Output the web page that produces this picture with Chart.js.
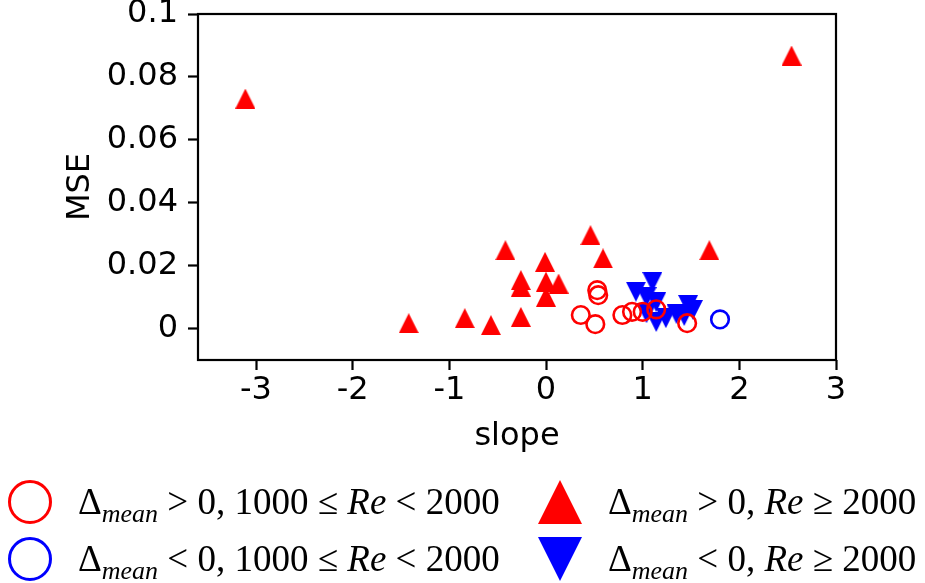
<!DOCTYPE html>
<html>
<head>
<meta charset="utf-8">
<script src="https://cdn.jsdelivr.net/npm/chart.js@4.4.0/dist/chart.umd.min.js"></script>
<style>
  html, body { margin: 0; padding: 0; background: #fff; }
  #wrap { width: 925px; height: 583px; }
</style>
</head>
<body>
<div id="wrap"><canvas id="mseChart" width="925" height="583"></canvas></div>
<script>
// slope vs. MSE, split by sign of the mean shift and Reynolds-number range
const posLowReSlope = [0.53, 0.54, 0.36, 0.51, 0.79, 0.89, 1.00, 1.14, 1.46];
const posLowReMse   = [0.0122, 0.0106, 0.0043, 0.0014, 0.0043, 0.0053, 0.0053, 0.0061, 0.0017];

const negLowReSlope = [1.80];
const negLowReMse   = [0.0029];

const posHighReSlope = [-3.11, 2.54, -1.42, -0.84, -0.57, -0.42, -0.01, -0.26, -0.26, 0.00, 0.13, 0.00, -0.26, 0.46, 0.59, 1.69];
const posHighReMse   = [0.0731, 0.0868, 0.0017, 0.0033, 0.0011, 0.0249, 0.0212, 0.0154, 0.0133, 0.0149, 0.0143, 0.0101, 0.0037, 0.0297, 0.0223, 0.0249];

const negHighReSlope = [1.10, 0.93, 1.04, 1.14, 1.04, 1.14, 1.24, 1.35, 1.47, 1.52, 1.43];
const negHighReMse   = [0.0148, 0.0117, 0.0100, 0.0084, 0.0049, 0.0021, 0.0033, 0.0046, 0.0075, 0.0059, 0.0040];

const xTicks = [-3, -2, -1, 0, 1, 2, 3];
const xTickLabels = ['-3', '-2', '-1', '0', '1', '2', '3'];
const yTicks = [0, 0.02, 0.04, 0.06, 0.08, 0.1];
const yTickLabels = ['0', '0.02', '0.04', '0.06', '0.08', '0.1'];

const RED = '#ff0000';
const BLUE = '#0000ff';

function toPoints(xs, ys) {
  return xs.map((x, i) => ({ x: x, y: ys[i] }));
}

// filled triangle marker (square bounding box, like matplotlib's ^ and v)
function triangleMarker(color, size, down) {
  const c = document.createElement('canvas');
  c.width = size;
  c.height = size;
  const g = c.getContext('2d');
  g.fillStyle = color;
  g.beginPath();
  if (down) {
    g.moveTo(0, 0); g.lineTo(size, 0); g.lineTo(size / 2, size);
  } else {
    g.moveTo(size / 2, 0); g.lineTo(size, size); g.lineTo(0, size);
  }
  g.closePath();
  g.fill();
  return c;
}

const upRed = triangleMarker(RED, 20, false);
const downBlue = triangleMarker(BLUE, 20, true);

// legend: label pieces (plain, italic subscript, italic)
const legendItems = [
  { ds: 0, col: 0, row: 0, parts: [['Δ'], ['mean', 'sub'], [' > 0, 1000 ≤ '], ['Re', 'it'], [' < 2000']] },
  { ds: 1, col: 0, row: 1, parts: [['Δ'], ['mean', 'sub'], [' < 0, 1000 ≤ '], ['Re', 'it'], [' < 2000']] },
  { ds: 2, col: 1, row: 0, parts: [['Δ'], ['mean', 'sub'], [' > 0, '], ['Re', 'it'], [' ≥ 2000']] },
  { ds: 3, col: 1, row: 1, parts: [['Δ'], ['mean', 'sub'], [' < 0, '], ['Re', 'it'], [' ≥ 2000']] }
];
const legendColX = [30, 560];
const legendRowY = [502, 559];

const mathLegend = {
  id: 'mathLegend',
  afterDraw(chart) {
    const ctx = chart.ctx;
    ctx.save();
    legendItems.forEach(item => {
      const ds = chart.data.datasets[item.ds];
      const cx = legendColX[item.col];
      const cy = legendRowY[item.row];
      if (ds.pointStyle === 'circle') {
        ctx.beginPath();
        ctx.arc(cx, cy, 20.5, 0, Math.PI * 2);
        ctx.lineWidth = 3;
        ctx.strokeStyle = ds.pointBorderColor;
        ctx.stroke();
      } else {
        const big = triangleMarker(ds.markerColor, 44, ds.markerDown);
        ctx.drawImage(big, cx - 22, cy - 22);
      }
      let x = cx + 48;
      const base = cy + 12;
      ctx.fillStyle = '#000';
      ctx.textBaseline = 'alphabetic';
      ctx.textAlign = 'left';
      item.parts.forEach(p => {
        let y = base;
        if (p[1] === 'sub') {
          ctx.font = 'italic 26px "Liberation Serif"';
          y = base + 8;
        } else if (p[1] === 'it') {
          ctx.font = 'italic 37px "Liberation Serif"';
        } else {
          ctx.font = '37px "Liberation Serif"';
        }
        ctx.fillText(p[0], x, y);
        x += ctx.measureText(p[0]).width;
      });
    });
    ctx.restore();
  }
};

// closed axes box
const frameBox = {
  id: 'frameBox',
  afterDatasetsDraw(chart) {
    const a = chart.chartArea;
    const ctx = chart.ctx;
    ctx.save();
    ctx.strokeStyle = '#000';
    ctx.lineWidth = 2.2;
    ctx.strokeRect(a.left, a.top, a.right - a.left, a.bottom - a.top);
    ctx.restore();
  }
};

Chart.defaults.font.family = '"DejaVu Sans"';
Chart.defaults.font.size = 32;
Chart.defaults.color = '#000';

const tickGrid = {
  display: true,
  drawOnChartArea: false,
  drawTicks: true,
  tickLength: 10,
  tickWidth: 2.2,
  tickColor: '#000'
};

new Chart(document.getElementById('mseChart'), {
  type: 'scatter',
  data: {
    datasets: [
      {
        label: 'Δmean > 0, 1000 ≤ Re < 2000',
        data: toPoints(posLowReSlope, posLowReMse),
        pointStyle: 'circle',
        pointRadius: 8.8,
        pointBorderWidth: 2.6,
        pointBorderColor: RED,
        pointBackgroundColor: 'rgba(0,0,0,0)'
      },
      {
        label: 'Δmean < 0, 1000 ≤ Re < 2000',
        data: toPoints(negLowReSlope, negLowReMse),
        pointStyle: 'circle',
        pointRadius: 8.8,
        pointBorderWidth: 2.6,
        pointBorderColor: BLUE,
        pointBackgroundColor: 'rgba(0,0,0,0)'
      },
      {
        label: 'Δmean > 0, Re ≥ 2000',
        data: toPoints(posHighReSlope, posHighReMse),
        pointStyle: upRed,
        pointRadius: 10,
        markerColor: RED,
        markerDown: false
      },
      {
        label: 'Δmean < 0, Re ≥ 2000',
        data: toPoints(negHighReSlope, negHighReMse),
        pointStyle: downBlue,
        pointRadius: 10,
        markerColor: BLUE,
        markerDown: true
      }
    ]
  },
  options: {
    responsive: false,
    animation: false,
    events: [],
    layout: { padding: { left: 0, top: 14, right: 89, bottom: 127 } },
    plugins: {
      legend: { display: false },
      tooltip: { enabled: false }
    },
    scales: {
      x: {
        type: 'linear',
        min: -3.6,
        max: 3.0,
        grid: tickGrid,
        border: { display: false },
        afterBuildTicks: s => { s.ticks = xTicks.map(v => ({ value: v })); },
        afterFit: s => { s.height = 96; s.paddingLeft = 0; s.paddingRight = 0; },
        ticks: {
          padding: 1,
          maxRotation: 0,
          font: { size: 32 },
          callback: v => xTickLabels[xTicks.indexOf(v)]
        },
        title: { display: true, text: 'slope', font: { size: 32 }, padding: { top: 0, bottom: 0 } }
      },
      y: {
        type: 'linear',
        min: -0.01,
        max: 0.1,
        grid: tickGrid,
        border: { display: false },
        afterBuildTicks: s => { s.ticks = yTicks.map(v => ({ value: v })); },
        afterFit: s => { s.width = 198; s.paddingTop = 0; s.paddingBottom = 0; },
        ticks: {
          padding: 10,
          font: { size: 32 },
          callback: v => yTickLabels[yTicks.findIndex(t => Math.abs(t - v) < 1e-9)]
        },
        title: { display: true, text: 'MSE', font: { size: 32 }, padding: { top: 61, bottom: 0 } }
      }
    }
  },
  plugins: [frameBox, mathLegend]
});
</script>
</body>
</html>
